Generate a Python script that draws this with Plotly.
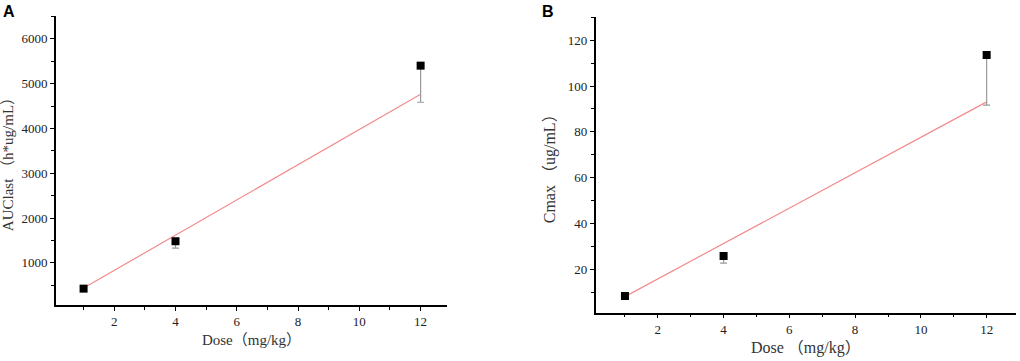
import plotly.graph_objects as go

dose = [1, 4, 12]
auc = [426, 1484, 5402]
auc_err_minus = [0, 156, 817]
auc_fit = [440, 4763]
cmax = [8.3, 25.8, 113.6]
cmax_err_minus = [0, 3.2, 21.9]
cmax_fit = [8.0, 93.1]
fit_x = [1, 12]

x_ticks = [2, 4, 6, 8, 10, 12]
auc_ticks = [1000, 2000, 3000, 4000, 5000, 6000]
cmax_ticks = [20, 40, 60, 80, 100, 120]

SERIF = "Liberation Serif, Noto Sans CJK SC, serif"
FIT_COLOR = "#f28b8b"
ERR_COLOR = "#9a9a9a"

fig = go.Figure()

fig.add_trace(go.Scatter(x=fit_x, y=auc_fit, mode="lines",
                         line=dict(color=FIT_COLOR, width=1.2),
                         xaxis="x", yaxis="y", showlegend=False))
fig.add_trace(go.Scatter(x=dose, y=auc, mode="markers",
                         marker=dict(symbol="square", color="black", size=8),
                         error_y=dict(type="data", symmetric=False,
                                      array=[0, 0, 0], arrayminus=auc_err_minus,
                                      color=ERR_COLOR, thickness=1.2, width=3.5),
                         xaxis="x", yaxis="y", showlegend=False))

fig.add_trace(go.Scatter(x=fit_x, y=cmax_fit, mode="lines",
                         line=dict(color=FIT_COLOR, width=1.2),
                         xaxis="x2", yaxis="y2", showlegend=False))
fig.add_trace(go.Scatter(x=dose, y=cmax, mode="markers",
                         marker=dict(symbol="square", color="black", size=8),
                         error_y=dict(type="data", symmetric=False,
                                      array=[0, 0, 0], arrayminus=cmax_err_minus,
                                      color=ERR_COLOR, thickness=1.2, width=3.5),
                         xaxis="x2", yaxis="y2", showlegend=False))

axis_common = dict(showline=True, linecolor="black", linewidth=1.6,
                   ticks="outside", ticklen=4, tickwidth=1.2, tickcolor="black",
                   showgrid=False, zeroline=False,
                   tickfont=dict(family=SERIF, size=13, color="#222"),
                   minor=dict(ticks="outside", ticklen=3, tickwidth=1, tickcolor="black"))

TITLE_FONT = dict(family=SERIF, size=15, color="#333")

fig.update_layout(
    width=1020, height=361,
    margin=dict(l=0, r=0, t=0, b=0),
    paper_bgcolor="white", plot_bgcolor="white",
    xaxis=dict(domain=[0.0549, 0.4382], anchor="y", range=[0.1, 12.86],
               tickvals=x_ticks, minor_dtick=1, minor_tick0=1,
               title=dict(text="Dose（mg/kg）", font=TITLE_FONT, standoff=6),
               **axis_common),
    yaxis=dict(domain=[0.155, 0.9557], anchor="x", range=[60, 6510],
               tickvals=auc_ticks, minor_dtick=500, minor_tick0=0,
               title=dict(text="AUClast （h*ug/mL）", font=TITLE_FONT, standoff=6),
               **axis_common),
    xaxis2=dict(domain=[0.584, 0.996], anchor="y2", range=[0.11, 12.89],
                tickvals=x_ticks, minor_dtick=1, minor_tick0=1,
                title=dict(text="Dose （mg/kg）", font=dict(family=SERIF, size=16, color="#333"), standoff=6),
                **axis_common),
    yaxis2=dict(domain=[0.134, 0.953], anchor="x2", range=[1, 130.2],
                tickvals=cmax_ticks, minor_dtick=10, minor_tick0=0,
                title=dict(text="Cmax （ug/mL）", font=dict(family=SERIF, size=16, color="#333"), standoff=8),
                **axis_common),
    annotations=[
        dict(text="<b>A</b>", x=0.001, y=0.998, xref="paper", yref="paper",
             xanchor="left", yanchor="top", showarrow=False,
             font=dict(family="Liberation Sans, Arial, sans-serif", size=16, color="black")),
        dict(text="<b>B</b>", x=0.529, y=0.998, xref="paper", yref="paper",
             xanchor="left", yanchor="top", showarrow=False,
             font=dict(family="Liberation Sans, Arial, sans-serif", size=16, color="black")),
    ],
)

fig.write_html("out.html", config={"displayModeBar": False},
               post_script="document.body.style.margin='0px';document.body.style.padding='0px';")
